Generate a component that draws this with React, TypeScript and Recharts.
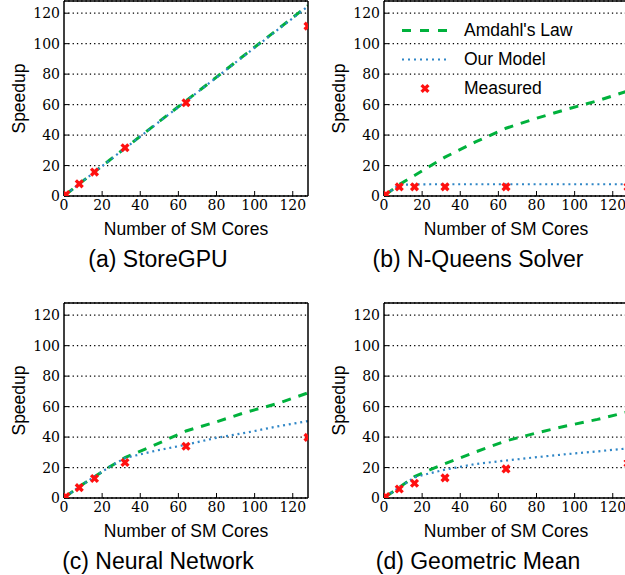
import React from "react";
import { CartesianGrid, ComposedChart, Legend, Line, Scatter, XAxis, YAxis } from "recharts";

const modelCores = [1, 8, 16, 24, 32, 48, 64, 80, 96, 112, 128];
const measuredCores = [1, 8, 16, 32, 64, 128];
const axisTicks = [0, 20, 40, 60, 80, 100, 120];
const seriesNames = ["Amdahl's Law", "Our Model", "Measured"];

const storeAmdahl = [1, 8, 15.8, 23.6, 31.4, 47, 62.5, 78, 93.8, 109.3, 125];
const storeModel = [1, 8, 15.7, 23.5, 31.3, 46.8, 62.3, 77.8, 93.5, 109, 124.5];
const storeMeasured = [1, 8, 15.7, 31.7, 61.2, 111.5];

const queensAmdahl = [1, 7.5, 13.5, 19.5, 25.5, 35.5, 44.5, 51, 57, 62.5, 69];
const queensModel = [1, 7.3, 7.6, 7.7, 7.7, 7.7, 7.7, 7.7, 7.7, 7.7, 7.7];
const queensMeasured = [1, 6, 6, 6, 6, 6];

const neuralAmdahl = [1, 7.5, 14, 20.5, 26.5, 35, 44, 50, 56.5, 62, 69];
const neuralModel = [1, 7.5, 14, 20.5, 26.3, 31, 35, 39.5, 43, 47, 50.5];
const neuralMeasured = [1, 6.8, 12.8, 23.3, 34, 39.8];

const geoAmdahl = [1, 7, 14, 18.5, 22.5, 30.2, 37.5, 42.7, 47.4, 51.6, 56.5];
const geoModel = [1, 7, 13.5, 16.2, 18.6, 22.3, 24.6, 26.8, 28.8, 30.6, 32.6];
const geoMeasured = [1, 5.9, 9.7, 13.2, 19.1, 22.9];

const GREEN = "#00b13c";
const BLUE = "#2f86c6";
const RED = "#ff1010";
const SANS = "'Liberation Sans', Arial, sans-serif";
const SERIF = "'DejaVu Serif'";

function XMarker(props: any) {
  const { cx, cy } = props;
  if (cx == null || cy == null) return null;
  const s = 3.4;
  return (
    <g>
      <line x1={cx - s} y1={cy - s} x2={cx + s} y2={cy + s} stroke={RED} strokeWidth={3.3} />
      <line x1={cx - s} y1={cy + s} x2={cx + s} y2={cy - s} stroke={RED} strokeWidth={3.3} />
    </g>
  );
}

function PanelLegend() {
  const row = { display: "flex", alignItems: "center", height: 29 } as const;
  return (
    <div style={{ fontFamily: SANS, fontSize: 17.5, color: "#000" }}>
      <div style={row}>
        <svg width={46} height={29} style={{ marginLeft: 2 }}>
          <line x1={0} y1={14.5} x2={46} y2={14.5} stroke={GREEN} strokeWidth={3} strokeDasharray="9 9" />
        </svg>
        <span style={{ marginLeft: 16 }}>{seriesNames[0]}</span>
      </div>
      <div style={row}>
        <svg width={46} height={29} style={{ marginLeft: 2 }}>
          <line x1={0} y1={14.5} x2={46} y2={14.5} stroke={BLUE} strokeWidth={2.2} strokeDasharray="2 4" />
        </svg>
        <span style={{ marginLeft: 16 }}>{seriesNames[1]}</span>
      </div>
      <div style={row}>
        <svg width={46} height={29} style={{ marginLeft: 2 }}>
          <XMarker cx={23} cy={14.5} />
        </svg>
        <span style={{ marginLeft: 16 }}>{seriesNames[2]}</span>
      </div>
    </div>
  );
}

function Panel({
  caption,
  amdahl,
  model,
  measured,
  showLegend,
  left,
  top,
}: {
  caption: string;
  amdahl: number[];
  model: number[];
  measured: number[];
  showLegend?: boolean;
  left: number;
  top: number;
}) {
  const lineData = modelCores.map((c, i) => ({ cores: c, amdahl: amdahl[i], model: model[i] }));
  const pointData = measuredCores.map((c, i) => ({ cores: c, measured: measured[i] }));
  const tickFont = { fill: "#000", fontSize: 14, fontFamily: SERIF };

  const xTitle = (p: any) => {
    const { x, y, width } = p.viewBox;
    return (
      <g>
        <text x={x + width / 2} y={y + 39} textAnchor="middle" fontFamily={SANS} fontSize={17.5} fill="#000">
          Number of SM Cores
        </text>
        <text x={x + 94} y={y + 71} textAnchor="middle" fontFamily={SANS} fontSize={23} fill="#000">
          {caption}
        </text>
      </g>
    );
  };
  const yTitle = (p: any) => {
    const { x, y, width, height } = p.viewBox;
    const lx = x + width - 39;
    const ly = y + height / 2;
    return (
      <text x={lx} y={ly} transform={`rotate(-90 ${lx} ${ly})`} textAnchor="middle" fontFamily={SANS} fontSize={17.5} fill="#000">
        Speedup
      </text>
    );
  };

  return (
    <div style={{ position: "absolute", left, top }}>
      <ComposedChart width={320} height={290} margin={{ top: 0, right: 11, bottom: 64, left: 4 }}>
        <CartesianGrid vertical={false} stroke="#000" strokeWidth={1.3} strokeDasharray="1.3 3" />
        <XAxis
          dataKey="cores" type="number" domain={[0, 128]} ticks={axisTicks} allowDataOverflow
          height={30} tickSize={-5} tickMargin={9} tick={tickFont}
          axisLine={{ stroke: "#000", strokeWidth: 1.5 }} tickLine={{ stroke: "#000" }}
          label={xTitle}
        />
        <XAxis
          xAxisId="top" orientation="top" type="number" domain={[0, 128]} ticks={axisTicks}
          height={1} tickSize={-5} tick={false}
          axisLine={{ stroke: "#000", strokeWidth: 1.5 }} tickLine={{ stroke: "#000" }}
        />
        <YAxis
          type="number" domain={[0, 128]} ticks={axisTicks} allowDataOverflow
          width={60} tickSize={-5} tickMargin={9} tick={tickFont}
          axisLine={{ stroke: "#000", strokeWidth: 1.5 }} tickLine={{ stroke: "#000" }}
          label={yTitle}
        />
        <YAxis
          yAxisId="right" orientation="right" type="number" domain={[0, 128]} ticks={axisTicks}
          width={1} tickSize={-5} tick={false}
          axisLine={{ stroke: "#000", strokeWidth: 1.5 }} tickLine={{ stroke: "#000" }}
        />
        <Line
          data={lineData} dataKey="amdahl" name={seriesNames[0]}
          stroke={GREEN} strokeWidth={3} strokeDasharray="9 8"
          dot={false} activeDot={false} isAnimationActive={false}
        />
        <Line
          data={lineData} dataKey="model" name={seriesNames[1]}
          stroke={BLUE} strokeWidth={2.2} strokeDasharray="2 3.8"
          dot={false} activeDot={false} isAnimationActive={false}
        />
        <Scatter
          data={pointData} dataKey="measured" name={seriesNames[2]}
          fill={RED} shape={XMarker} isAnimationActive={false}
        />
        {showLegend && (
          <Legend
            layout="horizontal" verticalAlign="middle" align="center"
            wrapperStyle={{ left: 80, top: 15.5, width: 220, height: 90 }}
            content={() => <PanelLegend />}
          />
        )}
      </ComposedChart>
    </div>
  );
}

export default function App() {
  return (
    <div style={{ position: "fixed", left: 0, top: 0, width: 625, height: 575, overflow: "hidden", background: "#fff" }}>
      <Panel caption="(a) StoreGPU" amdahl={storeAmdahl} model={storeModel} measured={storeMeasured} left={0} top={0} />
      <Panel caption="(b) N-Queens Solver" amdahl={queensAmdahl} model={queensModel} measured={queensMeasured} showLegend left={320} top={0} />
      <Panel caption="(c) Neural Network" amdahl={neuralAmdahl} model={neuralModel} measured={neuralMeasured} left={0} top={302} />
      <Panel caption="(d) Geometric Mean" amdahl={geoAmdahl} model={geoModel} measured={geoMeasured} left={320} top={302} />
    </div>
  );
}
